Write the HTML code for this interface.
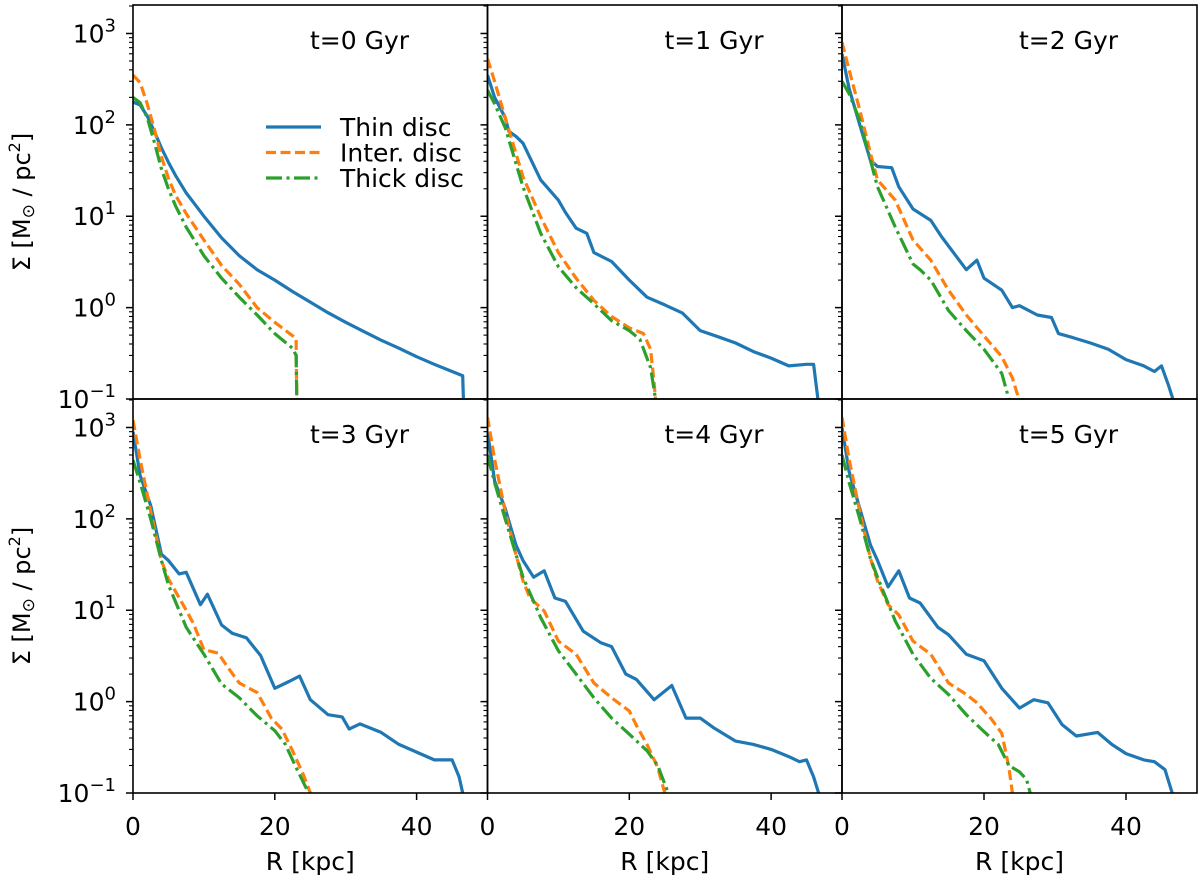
<!DOCTYPE html>
<html><head><meta charset="utf-8"><style>
html,body{margin:0;padding:0;background:#fff;}
svg{display:block;font-family:"DejaVu Sans","Liberation Sans",sans-serif;}
</style></head><body>
<svg id="fig" width="1200" height="878" viewBox="0 0 1200 878" xmlns="http://www.w3.org/2000/svg"></svg>
<script>
// ---- data: [R kpc, Sigma Msun/pc^2] ----
const panelTitles = ["t=0 Gyr","t=1 Gyr","t=2 Gyr","t=3 Gyr","t=4 Gyr","t=5 Gyr"];
const seriesNames = ["Thin disc","Inter. disc","Thick disc"];
const xTicks = [0,20,40];
const yTicks = [0.1,1,10,100,1000];
const yTickExp = ["\u22121","0","1","2","3"];

const thin_t0 = [[0,178],[1,165],[2,125],[3,85],[4,56],[5,39],[6,28],[7.5,18],[10,10],[12.5,5.8],[15,3.7],[17.5,2.6],[20,2.0],[22.5,1.5],[25,1.15],[27.5,0.88],[30,0.69],[32.5,0.55],[35,0.44],[37.5,0.36],[40,0.29],[42.5,0.24],[45,0.20],[46.5,0.18],[46.6,0.1]];
const inter_t0 = [[0,350],[1,290],[2,170],[3,90],[4,45],[5,26],[6,17],[7.5,10.7],[10,5.5],[12.5,2.9],[15,1.8],[17.5,1.0],[20,0.69],[23,0.46],[23.1,0.1]];
const thick_t0 = [[0,200],[1,175],[2,120],[3,65],[4,33],[5,20],[6,13],[7.5,7.6],[10,3.7],[12.5,2.1],[15,1.3],[17.5,0.83],[20,0.52],[22.5,0.36],[23,0.30],[23.1,0.1]];

const thin_t1 = [[0,350],[1,200],[2.5,120],[3,85],[4,75],[5,63],[7.5,25],[10,15],[11,11],[12.5,7.4],[14,6.5],[15,4.0],[17.5,3.2],[20,2.0],[22.5,1.3],[25,1.07],[27.5,0.87],[30,0.56],[32.5,0.48],[35,0.41],[37.5,0.33],[40,0.28],[42.5,0.23],[45,0.24],[46,0.24],[46.6,0.1]];
const inter_t1 = [[0,530],[1,300],[2.5,120],[5,27],[7.5,9.8],[10,4.0],[12.5,2.1],[15,1.2],[17.5,0.8],[20,0.6],[22,0.52],[23,0.35],[23.5,0.15],[23.7,0.1]];
const thick_t1 = [[0,240],[1,170],[2.5,93],[5,21],[7.5,6.5],[10,2.8],[12.5,1.65],[15,1.1],[17.5,0.72],[20,0.56],[21.5,0.45],[23,0.22],[23.7,0.1]];

const thin_t2 = [[0,600],[1,250],[2.5,100],[4,41],[5,35],[7,34],[8,21],[10,12],[12.5,9],[14,6],[17.5,2.6],[19,3.3],[20,2.1],[22.5,1.55],[24,1.0],[25,1.05],[27.5,0.83],[29.5,0.78],[30.5,0.52],[32.5,0.47],[35,0.41],[37.5,0.35],[40,0.27],[42.5,0.23],[44,0.2],[45,0.23],[46,0.14],[46.6,0.1]];
const inter_t2 = [[0,800],[1,400],[2.5,145],[4,49],[5,25],[7.5,15],[10,5.5],[12.5,3.3],[15,1.55],[17.5,0.83],[20,0.49],[22.5,0.29],[24,0.17],[24.9,0.1]];
const thick_t2 = [[0,300],[1,220],[2.5,112],[4,41],[5,21],[7.5,7.6],[10,3.0],[11,2.6],[12.5,2.0],[15,0.93],[17.5,0.56],[20,0.35],[22.5,0.19],[23.5,0.1]];

const thin_t3 = [[0,900],[1,300],[2.5,140],[4,41],[5,35],[6.5,25],[7.5,26],[9.5,11.5],[10.5,15],[12.5,6.9],[14,5.6],[16,5.0],[18,3.2],[20,1.4],[22,1.66],[23.5,1.9],[25,1.05],[27.5,0.72],[29.5,0.68],[30.5,0.5],[32,0.57],[35,0.46],[37.5,0.34],[40,0.28],[42.5,0.23],[45,0.23],[46,0.15],[46.5,0.1]];
const inter_t3 = [[0,1200],[1,450],[2.5,120],[4,35],[5,22],[7.5,10],[8.5,7.2],[10,3.7],[12,3.4],[13.5,2.3],[15,1.6],[17.5,1.26],[19.5,0.66],[21,0.5],[22.5,0.29],[24,0.16],[25,0.1]];
const thick_t3 = [[0,440],[1,250],[2.5,100],[4,35],[5,19],[7.5,6.5],[10,3.3],[12.5,1.56],[15,1.1],[17.5,0.7],[20,0.48],[21.5,0.34],[23,0.19],[24.5,0.11],[25,0.1]];

const thin_t4 = [[0,900],[1,260],[2.5,130],[4,52],[5,35],[6.5,23],[8,27],[9.5,13.6],[11,12.5],[13.5,5.9],[16,4.4],[17.5,4.0],[19.5,2.0],[21,1.75],[23.5,1.05],[26,1.5],[28,0.66],[30,0.66],[32,0.51],[35,0.37],[37.5,0.34],[40,0.30],[42.5,0.25],[44,0.22],[45,0.23],[46,0.15],[46.7,0.1]];
const inter_t4 = [[0,1300],[1,450],[2.5,120],[4,41],[5,21],[6,13.6],[8,9.8],[10,4.6],[12.5,3.3],[15,1.6],[17.5,1.1],[20,0.79],[21,0.55],[22.5,0.34],[24,0.19],[25,0.1]];
const thick_t4 = [[0,500],[1,250],[2.5,100],[4,41],[5,23],[7.5,8.3],[10,3.6],[12.5,2.0],[15,1.1],[17.5,0.66],[20,0.44],[22.5,0.29],[24,0.2],[25.5,0.1]];

const thin_t5 = [[0,1000],[1,330],[2.5,130],[4,52],[5,35],[6.5,18],[8,27],[9.5,13.6],[11,12],[13.5,6.5],[15,5.4],[17.5,3.3],[20,2.8],[22.5,1.4],[25,0.85],[27,1.05],[29,0.97],[31,0.56],[33,0.42],[36,0.46],[38,0.34],[40,0.27],[42.5,0.23],[44,0.22],[45.5,0.18],[46.5,0.1]];
const inter_t5 = [[0,1300],[1,450],[2.5,120],[4,37],[5,21],[6.5,11.5],[8,8.9],[10,4.6],[12.5,3.3],[15,1.6],[17.5,1.2],[19,0.97],[21,0.65],[22.5,0.45],[23.5,0.19],[24,0.1]];
const thick_t5 = [[0,500],[1,250],[2.5,100],[4,37],[5,23],[7.5,7.6],[10,3.3],[12.5,1.8],[15,1.2],[17.5,0.72],[20,0.47],[22,0.34],[23.5,0.2],[25,0.17],[26,0.14],[26.5,0.1]];

const panelSeries = [
  [thin_t0,inter_t0,thick_t0],[thin_t1,inter_t1,thick_t1],[thin_t2,inter_t2,thick_t2],
  [thin_t3,inter_t3,thick_t3],[thin_t4,inter_t4,thick_t4],[thin_t5,inter_t5,thick_t5]];

// ---- layout ----
const NS="http://www.w3.org/2000/svg";
const svg=document.getElementById('fig');
const colX=[133,487.5,842,1197];
const rowY=[5,399,793];
const yMinL=-1, yMaxL=Math.log10(2050);
const colors=["#1f77b4","#ff7f0e","#2ca02c"];
const dashes=["none","10,4.5","16,4.5,3,4.5"];
function mk(tag,attrs,parent){const e=document.createElementNS(NS,tag);for(const k in attrs)e.setAttribute(k,attrs[k]);(parent||svg).appendChild(e);return e;}

for(let p=0;p<6;p++){
  const c=p%3, r=Math.floor(p/3);
  const x0=colX[c], x1=colX[c+1], y0=rowY[r], y1=rowY[r+1];
  const xs=v=>x0+(v/50)*(x1-x0);
  const ys=v=>y1-(Math.log10(v)-yMinL)/(yMaxL-yMinL)*(y1-y0);
  const g=mk('g',{});
  
  
  const clipId='clip'+p;
  const cp=mk('clipPath',{id:clipId},g);mk('rect',{x:x0,y:y0,width:x1-x0,height:y1-y0},cp);
  panelSeries[p].forEach((data,si)=>{
    const d=data.map((pt,i)=>(i?'L':'M')+xs(pt[0]).toFixed(1)+','+ys(pt[1]).toFixed(1)).join(' ');
    const path=mk('path',{d:d,fill:'none',stroke:colors[si],'stroke-width':3.2,'stroke-linejoin':'round','clip-path':'url(#'+clipId+')'},g);
    if(dashes[si]!=='none')path.setAttribute('stroke-dasharray',dashes[si]);
    
    
  });
  for(let e=-1;e<=3;e++){
    for(let m=1;m<10;m++){
      const v=m*Math.pow(10,e); if(Math.log10(v)>yMaxL) continue;
      const y=ys(v); const len=m===1?7:4;
      const t=mk('line',{x1:x0-len,x2:x0,y1:y,y2:y,stroke:'#000','stroke-width':m===1?1.5:1.1},g);
      
      
    }
  }
  if(c===0){
    yTicks.forEach((v,i)=>{
      const tx=mk('text',{x:116,y:ys(v)+9,'text-anchor':'end','font-size':25,fill:'#000'},g);
      
      
      tx.appendChild(document.createTextNode('10'));
      const sp=mk('tspan',{dy:-11,'font-size':18},tx);sp.textContent=yTickExp[i];
    });
    const yl=mk('text',{x:0,y:0,transform:'translate(30,'+((y0+y1)/2)+') rotate(-90)','text-anchor':'middle','font-size':24,fill:'#000'},g);
    
    
    yl.appendChild(document.createTextNode('\u03A3 [M'));
    const s1=mk('tspan',{'font-size':17,dy:4},yl);s1.textContent='\u2299';
    const s2=mk('tspan',{dy:-4},yl);s2.textContent=' / pc';
    const s3=mk('tspan',{'font-size':16,dy:-10},yl);s3.textContent='2';
    const s4=mk('tspan',{dy:10},yl);s4.textContent=']';
  }
  if(r===1){
    xTicks.forEach(v=>{
      const t=mk('line',{x1:xs(v),x2:xs(v),y1:y1,y2:y1+7,stroke:'#000','stroke-width':1.5},g);
      
      
      const tx=mk('text',{x:xs(v),y:835,'text-anchor':'middle','font-size':25,fill:'#000'},g);
      tx.textContent=v;
      
      
    });
    const xl=mk('text',{x:(x0+x1)/2,y:870,'text-anchor':'middle','font-size':25,fill:'#000'},g);
    xl.textContent='R [kpc]';
    
    
  }
  const ti=mk('text',{x:x0+177,y:y0+44,'font-size':25,fill:'#000'},g);
  ti.textContent=panelTitles[p];
  
  
  const fr=mk('rect',{x:x0,y:y0,width:x1-x0,height:y1-y0,fill:'none',stroke:'#000','stroke-width':1.6},g);
  
  
}
const lg=mk('g',{});


seriesNames.forEach((n,i)=>{
  const y=127+i*25.5;
  const ln=mk('line',{x1:266,x2:321,y1:y,y2:y,stroke:colors[i],'stroke-width':3.2},lg);
  if(dashes[i]!=='none')ln.setAttribute('stroke-dasharray',dashes[i]);
  
  
  const t=mk('text',{x:340,y:y+9,'font-size':25,fill:'#000'},lg);
  t.textContent=n;
  
  
});
</script>
</body></html>
